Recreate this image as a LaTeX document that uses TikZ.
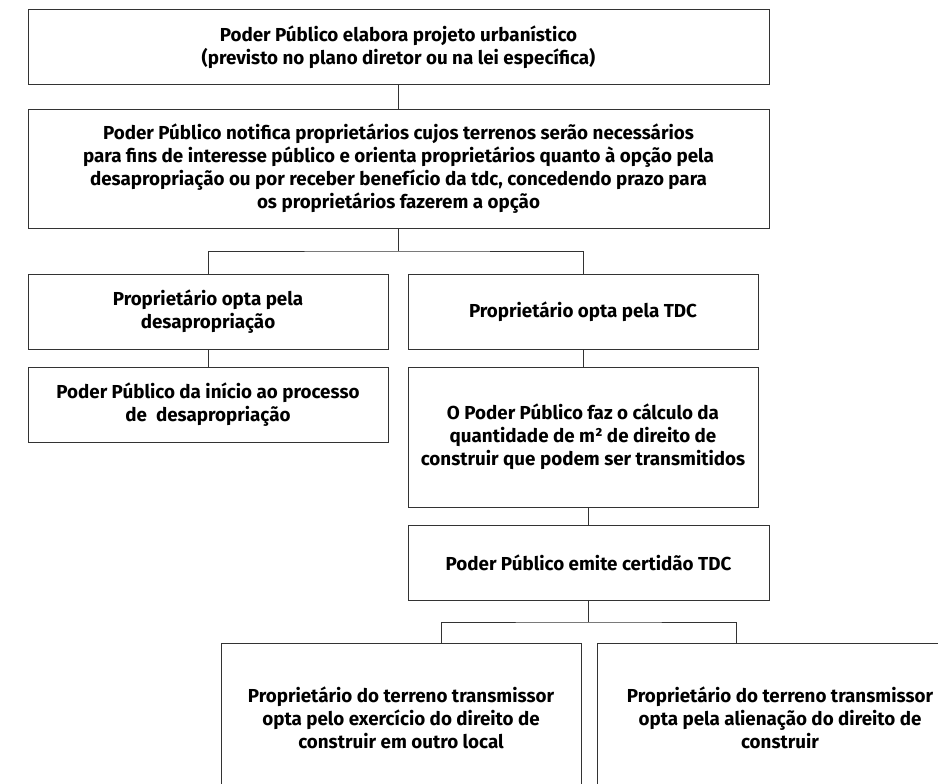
\documentclass[tikz,border=0pt]{standalone}
\usepackage{fontspec}
\setmainfont{Fira Sans}
\begin{document}
\begin{tikzpicture}[x=1pt,y=-1pt,
  box/.style={draw=black!80, line width=1pt, rectangle, inner sep=0pt, align=center,
    font=\bfseries\fontsize{18.8}{23}\selectfont, text=black},
  link/.style={draw=black!80, line width=1pt}]
\clip (0,0) rectangle (938,784);
\fill[white] (0,0) rectangle (938,784);
% boxes
\node[box, minimum width=741pt, minimum height=75pt] (b1) at (398.5,47.5)
  {Poder Público elabora projeto urbanístico\\(previsto no plano diretor ou na lei específica)};
\node[box, minimum width=741pt, minimum height=118pt] (b2) at (398.5,169)
  {Poder Público notifica proprietários cujos terrenos serão necessários\\
   para fins de interesse público e orienta proprietários quanto à opção pela\\
   desapropriação ou por receber benefício da tdc, concedendo prazo para\\
   os proprietários fazerem a opção};
\node[box, minimum width=360pt, minimum height=75pt] (b3) at (208,311.5)
  {Proprietário opta pela\\desapropriação};
\node[box, minimum width=350pt, minimum height=75pt] (b4) at (583,311.5)
  {Proprietário opta pela TDC};
\node[box, minimum width=360pt, minimum height=75pt] (b5) at (208,404.5)
  {Poder Público da início ao processo\\de~ desapropriação};
\node[box, minimum width=350pt, minimum height=140pt] (b6) at (583,437)
  {O Poder Público faz o cálculo da\\quantidade de m² de direito de\\construir que podem ser transmitidos};
\node[box, minimum width=361pt, minimum height=75pt] (b7) at (588.5,562.5)
  {Poder Público emite certidão TDC};
\node[box, minimum width=360pt, minimum height=150pt] (b8) at (401,718)
  {Proprietário do terreno transmissor\\opta pelo exercício do direito de\\construir em outro local};
\node[box, minimum width=366pt, minimum height=150pt] (b9) at (780,718)
  {Proprietário do terreno transmissor\\opta pela alienação do direito de\\construir};
% junction points
\coordinate (j1) at (398.5,251);
\coordinate (j2) at (588.5,622);
% connectors
\draw[link] (b1.south) -- (b2.north);
\draw[link] (b2.south) -- (j1);
\draw[link] (b3.north) |- (j1) -| (b4.north);
\draw[link] (b3.south) -- (b5.north);
\draw[link] (b4.south) -- (b6.north);
\draw[link] (b6.south -| b7.north) -- (b7.north);
\draw[link] (b7.south) -- (j2);
\draw[link] (b8.north -| 441,0) |- (j2) -| (b9.north -| 736,0);
\end{tikzpicture}
\end{document}
